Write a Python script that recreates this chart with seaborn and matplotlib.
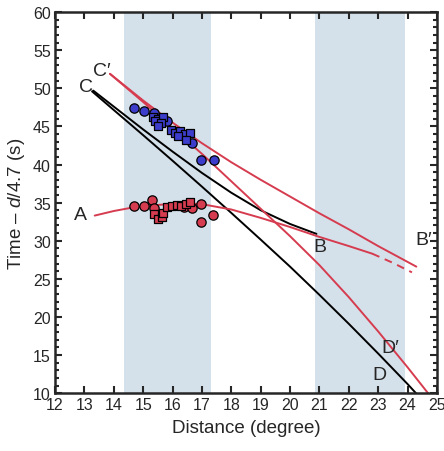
import numpy as np
import pandas as pd
import matplotlib
matplotlib.use('Agg')
import matplotlib.pyplot as plt
import seaborn as sns
from matplotlib.ticker import MultipleLocator

# --- dados ---
blue_circ_x = [14.70, 15.04, 15.38, 15.80, 16.67, 16.97, 17.41]
blue_circ_y = [47.4, 47.05, 46.75, 45.7, 42.8, 40.6, 40.6]
blue_sq_x = [15.35, 15.52, 15.69, 15.40, 15.61, 15.50, 15.95, 16.08, 16.25, 16.42, 16.59, 16.20, 16.45]
blue_sq_y = [46.26, 45.96, 46.18, 45.65, 45.5, 45.08, 44.5, 44.2, 44.35, 44.0, 44.08, 43.77, 43.2]

red_circ_x = [14.70, 15.04, 15.31, 15.38, 16.40, 16.65, 16.97, 16.97, 17.39]
red_circ_y = [34.6, 34.6, 35.33, 34.24, 34.37, 34.24, 34.8, 32.4, 33.4]
red_sq_x = [15.38, 15.50, 15.63, 15.69, 15.80, 15.99, 16.14, 16.29, 16.46, 16.59]
red_sq_y = [33.5, 32.8, 33.05, 33.7, 34.37, 34.6, 34.67, 34.6, 34.8, 35.1]

# curvas modelo
curve_A_x = [13.35, 14.0, 14.7, 15.5, 16.3, 17.0, 18.0, 19.0, 20.0, 21.0, 22.0, 22.8]
curve_A_y = [33.3, 33.9, 34.4, 34.7, 34.9, 34.8, 34.1, 33.0, 31.8, 30.5, 29.3, 28.3]
curve_A_dash_x = [22.8, 23.5, 24.15]
curve_A_dash_y = [28.3, 27.1, 25.85]
curve_CB_x = [13.3, 14.0, 15.0, 16.0, 17.0, 18.0, 19.0, 20.0, 20.9]
curve_CB_y = [49.7, 47.6, 44.6, 41.7, 38.9, 36.3, 34.0, 32.2, 30.9]
curve_CD_x = [13.26, 14.0, 15.0, 16.0, 17.0, 18.0, 19.0, 20.0, 21.0, 22.0, 23.0, 24.0, 24.5]
curve_CD_y = [49.6, 47.15, 43.85, 40.5, 37.1, 33.65, 30.15, 26.6, 22.9, 19.1, 15.2, 11.2, 9.1]
curve_CpBp_x = [13.87, 15.0, 16.0, 17.0, 18.0, 19.0, 20.0, 21.0, 22.0, 23.0, 24.3]
curve_CpBp_y = [51.9, 48.4, 45.5, 42.8, 40.3, 38.0, 35.8, 33.6, 31.5, 29.3, 26.6]
curve_CpDp_x = [13.87, 15.0, 16.0, 17.0, 18.0, 19.0, 20.0, 21.0, 22.0, 23.0, 24.0, 24.8]
curve_CpDp_y = [51.9, 48.2, 44.8, 41.4, 37.8, 34.2, 30.6, 26.8, 22.6, 18.1, 13.4, 9.5]

bands = [(14.35, 17.3), (20.85, 23.9)]
labels = ['A', 'B', 'B′', 'C', 'C′', 'D', 'D′']
label_x = [12.85, 21.02, 24.55, 13.05, 13.6, 23.06, 23.4]
label_y = [33.5, 29.2, 30.2, 50.2, 52.3, 12.5, 16.0]

sns.set_style('ticks')
plt.rcParams['font.family'] = ['Liberation Sans', 'DejaVu Sans']
plt.rcParams['mathtext.fontset'] = 'custom'
plt.rcParams['mathtext.it'] = 'Liberation Sans:italic'
plt.rcParams['mathtext.rm'] = 'Liberation Sans'

RED = '#d63c4f'
BLUE = '#3d3dcc'
BAND = '#d5e1ea'

fig = plt.figure(figsize=(4.44, 4.52), dpi=100)
ax = fig.add_axes([0.124, 0.128, 0.86, 0.843])

for x0, x1 in bands:
    ax.axvspan(x0, x1, color=BAND, lw=0, zorder=0)


def line(x, y, color, **kw):
    sns.lineplot(x=x, y=y, color=color, sort=False, estimator=None, lw=1.4, ax=ax, **kw)


line(curve_CB_x, curve_CB_y, 'black')
line(curve_CD_x, curve_CD_y, 'black')
line(curve_A_x, curve_A_y, RED)
line(curve_A_dash_x, curve_A_dash_y, RED, linestyle=(0, (4, 3)))
line(curve_CpBp_x, curve_CpBp_y, RED)
line(curve_CpDp_x, curve_CpDp_y, RED)

pts = dict(edgecolor='black', linewidth=0.9, s=45, ax=ax, zorder=3, legend=False)
sns.scatterplot(x=blue_circ_x, y=blue_circ_y, color=BLUE, marker='o', **pts)
sns.scatterplot(x=blue_sq_x, y=blue_sq_y, color=BLUE, marker='s', **{**pts, 's': 30})
sns.scatterplot(x=red_circ_x, y=red_circ_y, color=RED, marker='o', **pts)
sns.scatterplot(x=red_sq_x, y=red_sq_y, color=RED, marker='s', **{**pts, 's': 30})

for t, x, y in zip(labels, label_x, label_y):
    ax.text(x, y, t, fontsize=14, ha='center', va='center')

ax.set_xlim(12, 25)
ax.set_ylim(10, 60)
ax.xaxis.set_major_locator(MultipleLocator(1))
ax.yaxis.set_major_locator(MultipleLocator(5))
ax.yaxis.set_minor_locator(MultipleLocator(1))
ax.tick_params(which='both', direction='in', top=True, right=True, labelsize=11.5, width=1.5, pad=3)
ax.tick_params(which='major', length=5)
ax.tick_params(which='minor', length=3)
for s in ax.spines.values():
    s.set_linewidth(1.8)

ax.set_xlabel('Distance (degree)', fontsize=13.5, labelpad=5)
ax.set_ylabel(r'Time – $d$/4.7 (s)', fontsize=13.5, labelpad=4)

fig.savefig('out.png', dpi=100)
